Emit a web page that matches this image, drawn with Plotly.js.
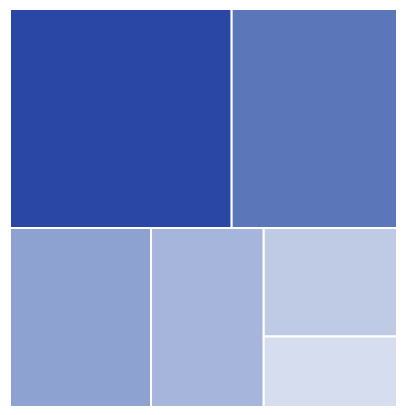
<!DOCTYPE html>
<html>
<head>
<meta charset="utf-8">
<script src="https://cdn.plot.ly/plotly-3.0.1.min.js"></script>
<style>html,body{margin:0;padding:0;background:#fff;}#chart{width:407px;height:415px;}</style>
</head>
<body>
<div id="chart"></div>
<script>
var labels = ["A", "B", "C", "D", "E", "F"];
var parents = ["", "", "", "", "", ""];
var values = [31.5, 23.5, 16.4, 13.1, 9.4, 6.1];
var palette = ["#2A47A5", "#5B77BA", "#8EA2D1", "#A6B5DC", "#BFCBE5", "#D6DDEE"];

Plotly.newPlot("chart", [{
  type: "treemap",
  labels: labels,
  parents: parents,
  values: values,
  sort: false,
  textinfo: "none",
  hoverinfo: "label+value",
  marker: {colors: palette, line: {color: "#ffffff", width: 2}, pad: {t: 0, l: 0, r: 0, b: 0}},
  tiling: {packing: "squarify", pad: 0},
  pathbar: {visible: false}
}], {
  width: 407,
  height: 415,
  margin: {l: 10, r: 10, t: 9, b: 8},
  paper_bgcolor: "#ffffff",
  showlegend: false
}, {displayModeBar: false});
</script>
</body>
</html>
